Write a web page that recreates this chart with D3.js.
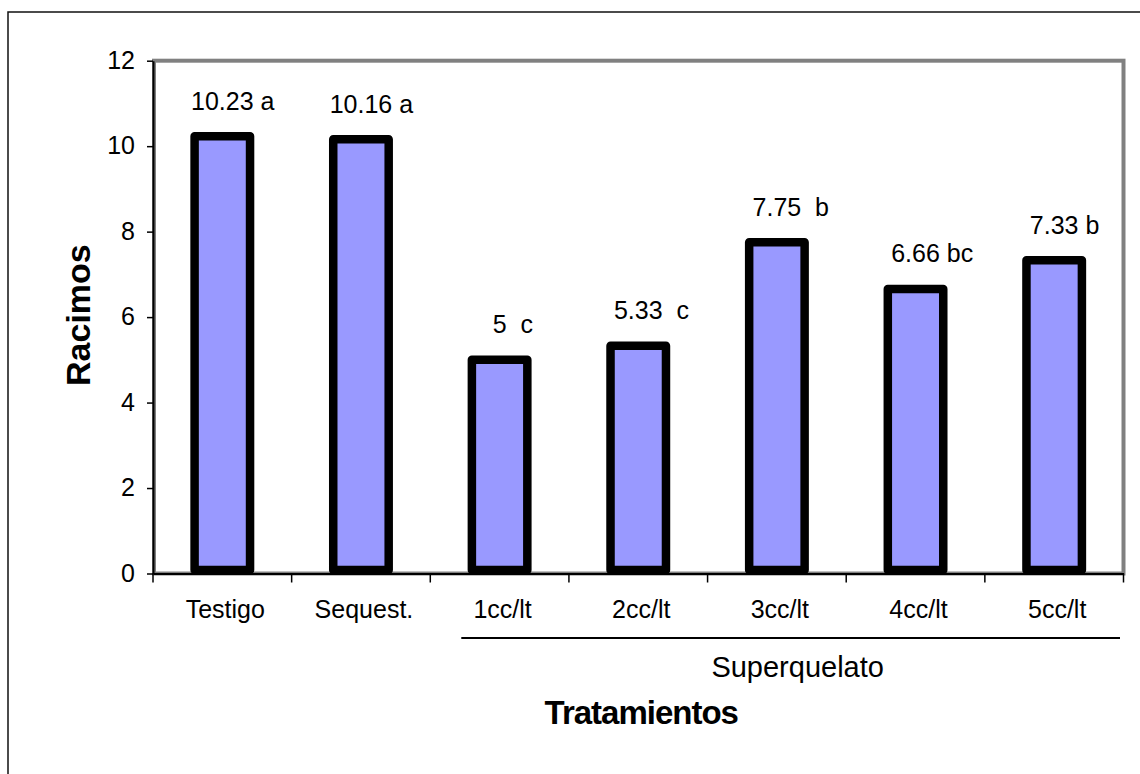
<!DOCTYPE html>
<html>
<head>
<meta charset="utf-8">
<script src="https://cdn.jsdelivr.net/npm/d3@7/dist/d3.min.js"></script>
<style>
  html, body { margin: 0; padding: 0; background: #fff; }
  svg { display: block; font-family: "Liberation Sans", Arial, sans-serif; }
</style>
</head>
<body>
<svg id="chart" width="1140" height="774"></svg>
<script>
// Treatments and mean number of clusters (racimos) per plant
const categories = ["Testigo", "Sequest.", "1cc/lt", "2cc/lt", "3cc/lt", "4cc/lt", "5cc/lt"];
const values = [10.23, 10.16, 5, 5.33, 7.75, 6.66, 7.33];
// Significance groups shown next to each value
const groups = [" a", " a", "  c", "  c", "  b", " bc", " b"];
const yTicks = [0, 2, 4, 6, 8, 10, 12];
// Treatments covered by the Superquelato bracket
const superquelato = ["1cc/lt", "2cc/lt", "3cc/lt", "4cc/lt", "5cc/lt"];

const svg = d3.select("#chart");
const W = 1140, H = 774;
const plot = { left: 153, right: 1123.5, top: 60.7, bottom: 573.5 };

svg.append("rect").attr("width", W).attr("height", H).attr("fill", "#fff");

// outer chart frame (only top and left edges fall inside the page)
svg.append("rect")
  .attr("x", 8).attr("y", 12)
  .attr("width", W + 40).attr("height", H + 40)
  .attr("fill", "none").attr("stroke", "#111").attr("stroke-width", 1.5);

const x = d3.scaleBand().domain(categories).range([plot.left, plot.right]).padding(0);
const y = d3.scaleLinear().domain([0, 12]).range([plot.bottom, plot.top]);

// plot-area frame
svg.append("rect")
  .attr("x", plot.left + 1).attr("y", plot.top)
  .attr("width", plot.right - plot.left - 1).attr("height", plot.bottom - plot.top)
  .attr("fill", "none").attr("stroke", "#808080").attr("stroke-width", 4);

// bars
const barW = x.bandwidth() * 0.4;
svg.append("g").selectAll("rect")
  .data(categories)
  .join("rect")
  .attr("x", (d) => x(d) + x.bandwidth() / 2 - barW / 2)
  .attr("y", (d, i) => y(values[i]))
  .attr("width", barW)
  .attr("height", (d, i) => y(0) - 3.5 - y(values[i]))
  .attr("fill", "#9999ff")
  .attr("stroke", "#000")
  .attr("stroke-width", 8.5)
  .attr("stroke-linejoin", "round");

// y axis
const yAxis = svg.append("g")
  .attr("transform", `translate(${plot.left},0)`)
  .call(d3.axisLeft(y).tickValues(yTicks).tickSize(6).tickSizeOuter(0).tickPadding(12));
yAxis.select(".domain").attr("stroke", "#000").attr("stroke-width", 2);
yAxis.selectAll(".tick line").attr("stroke", "#000").attr("stroke-width", 1.5);
yAxis.selectAll(".tick text")
  .attr("font-size", 25).attr("fill", "#000")
  .attr("font-family", "Liberation Sans, Arial, sans-serif")
  .attr("dy", "0.3em");

// x axis: labels centred on bands, ticks on band boundaries
const xAxis = svg.append("g")
  .attr("transform", `translate(0,${plot.bottom})`)
  .call(d3.axisBottom(x).tickSize(0).tickSizeOuter(0).tickPadding(26.5));
xAxis.select(".domain").attr("stroke", "#000").attr("stroke-width", 2);
xAxis.selectAll(".tick text")
  .attr("font-size", 25).attr("fill", "#000")
  .attr("font-family", "Liberation Sans, Arial, sans-serif")
  .attr("dx", 3);

const boundaries = categories.map((c) => x(c)).concat([x.range()[1]]);
svg.append("g").selectAll("line")
  .data(boundaries)
  .join("line")
  .attr("x1", (d) => d).attr("x2", (d) => d)
  .attr("y1", plot.bottom).attr("y2", plot.bottom + 9)
  .attr("stroke", "#000").attr("stroke-width", 1.5);

// value labels: number centred over the bar, group letter after it
const labels = svg.append("g")
  .attr("font-size", 25).attr("fill", "#000");
categories.forEach((c, i) => {
  const cx = x(c) + x.bandwidth() / 2;
  const t = labels.append("text")
    .attr("x", cx)
    .attr("y", y(values[i]) - 26.5)
    .style("white-space", "pre");
  const num = t.append("tspan").text(String(values[i]));
  t.append("tspan").text(groups[i]);
  const w = num.node().getComputedTextLength();
  t.attr("x", cx - w / 2);
});

// Superquelato bracket
const bx0 = x(superquelato[0]) + 31;
const bx1 = x.range()[1] - 3.5;
svg.append("line")
  .attr("x1", bx0).attr("x2", bx1)
  .attr("y1", 638).attr("y2", 638)
  .attr("stroke", "#000").attr("stroke-width", 2);
svg.append("text")
  .attr("x", (bx0 + bx1) / 2 + 7).attr("y", 676.5)
  .attr("text-anchor", "middle")
  .attr("font-size", 29)
  .text("Superquelato");

// axis titles
svg.append("text")
  .attr("x", (plot.left + plot.right) / 2 + 3).attr("y", 724)
  .attr("text-anchor", "middle")
  .attr("font-size", 33).attr("font-weight", "bold")
  .attr("letter-spacing", -1)
  .text("Tratamientos");

svg.append("text")
  .attr("transform", `translate(90,${(plot.top + plot.bottom) / 2 - 2}) rotate(-90)`)
  .attr("text-anchor", "middle")
  .attr("font-size", 34).attr("font-weight", "bold")
  .text("Racimos");
</script>
</body>
</html>
